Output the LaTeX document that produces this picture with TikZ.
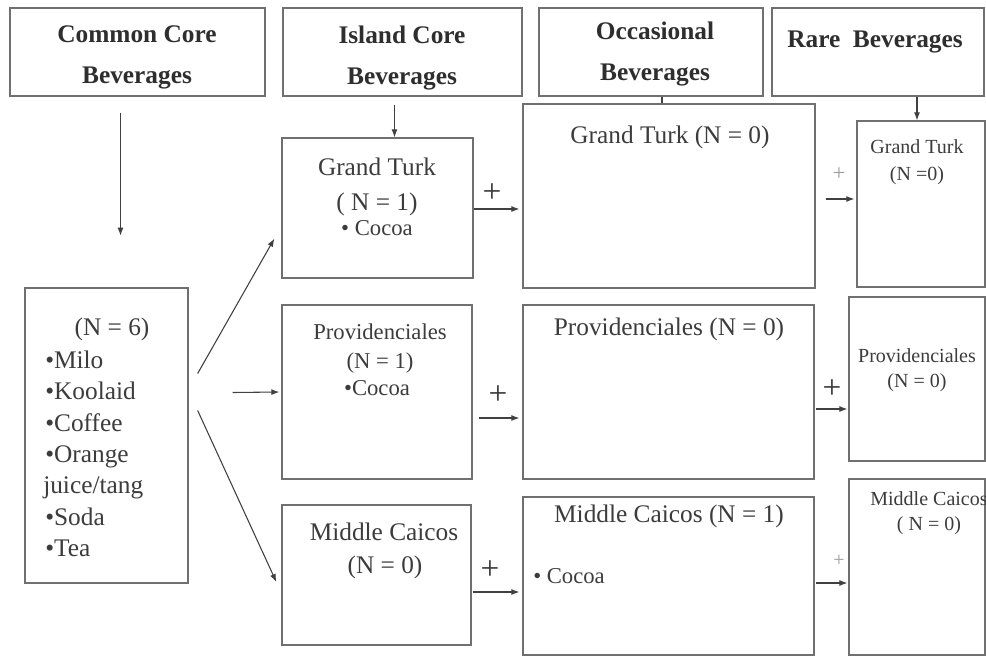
\documentclass[tikz,border=0pt]{standalone}
\usepackage{fontspec}
\setmainfont{Liberation Serif}
\usetikzlibrary{arrows.meta,calc,fit}

\definecolor{ink}{HTML}{2E2E2E}
\definecolor{body}{HTML}{3C3C3C}
\definecolor{frame}{HTML}{707070}
\definecolor{wire}{HTML}{404040}
\definecolor{faint}{HTML}{9C9C9C}

% font sizes
\newcommand\hdrfont{\fontsize{19}{21}\selectfont\bfseries}
\newcommand\bigtxt{\fontsize{19}{21}\selectfont}
\newcommand\midtxt{\fontsize{17}{19}\selectfont}
\newcommand\smtxt{\fontsize{15}{17}\selectfont}
\newcommand\plusbig{\fontsize{25}{27}\selectfont}
\newcommand\plussmall{\fontsize{17}{19}\selectfont}

\tikzset{
  box/.style={draw=frame, line width=1pt, inner sep=0pt},
  hdr/.style={font=\hdrfont, text=ink, anchor=base, inner sep=0pt},
  txt/.style={text=body, anchor=base, inner sep=0pt},
  lefttxt/.style={text=body, anchor=base west, inner sep=0pt, font=\bigtxt},
  arr/.style={draw=wire, line width=0.8pt, -{Latex[length=6pt,width=4.5pt]}},
  link/.style={draw=wire, line width=0.8pt},
  plus/.style={text=body, inner sep=0pt, anchor=center},
}

\begin{document}
\begin{tikzpicture}[x=0.75pt, y=-0.75pt]
\useasboundingbox[fill=white] (0,0) rectangle (986,661);

% ---- column headers
\node[box, fit={(10,8) (265,96)}]  (hcc) {};
\node[box, fit={(283,8) (522,96)}] (hic) {};
\node[box, fit={(539,8) (763,96)}] (hoc) {};
\node[box, fit={(772,8) (984,96)}] (hrb) {};

\node[hdr] (hcc1) at (137,42) {Common Core};
\node[hdr] (hcc2) at (137,83) {Beverages};
\node[hdr] (hic1) at (402,43) {Island Core};
\node[hdr] (hic2) at (402,84) {Beverages};
\node[hdr] (hoc1) at (655,39) {Occasional};
\node[hdr] (hoc2) at (655,80) {Beverages};
\node[hdr] (hrb1) at (875,47) {Rare\ \ Beverages};

% ---- common core list
\node[box, fit={(25,288) (188,583)}] (lb) {};
\node[txt, font=\bigtxt] (lbn) at (112,335) {(N = 6)};
\node[lefttxt] (l1) at (45,368) {•Milo};
\node[lefttxt] (l2) at (45,399) {•Koolaid};
\node[lefttxt] (l3) at (45,431) {•Coffee};
\node[lefttxt] (l4) at (45,462) {•Orange};
\node[lefttxt] (l5) at (43,493) {juice/tang};
\node[lefttxt] (l6) at (45,525) {•Soda};
\node[lefttxt] (l7) at (45,556) {•Tea};

% ---- island core boxes
\node[box, fit={(282,138) (473,278)}] (igt) {};
\node[txt, font=\bigtxt] (igt1) at (377,175) {Grand Turk};
\node[txt, font=\bigtxt] (igt2) at (377,210) {( N = 1)};
\node[txt, font=\midtxt] (igt3) at (377,235) {• Cocoa};

\node[box, fit={(282,305) (472,479)}] (ipr) {};
\node[txt, font=\midtxt] (ipr1) at (380,339) {Providenciales};
\node[txt, font=\midtxt] (ipr2) at (380,368) {(N = 1)};
\node[txt, font=\midtxt] (ipr3) at (377,395) {•Cocoa};

\node[box, fit={(282,505) (471,645)}] (imc) {};
\node[txt, font=\bigtxt] (imc1) at (384,540) {Middle Caicos};
\node[txt, font=\bigtxt] (imc2) at (385,573) {(N = 0)};

% ---- occasional boxes
\node[box, fit={(523,104) (815,288)}] (ogt) {};
\node[txt, font=\bigtxt] (ogt1) at (670,143) {Grand Turk (N = 0)};

\node[box, fit={(523,305) (814,479)}] (opr) {};
\node[txt, font=\bigtxt] (opr1) at (669,335) {Providenciales (N = 0)};

\node[box, fit={(523,497) (814,655)}] (omc) {};
\node[txt, font=\bigtxt] (omc1) at (669,522) {Middle Caicos (N = 1)};
\node[txt, font=\midtxt, anchor=base west] (omc2) at (533,583) {• Cocoa};

% ---- rare boxes
\node[box, fit={(857,121) (985,287)}] (rgt) {};
\node[txt, font=\smtxt] (rgt1) at (917,153) {Grand Turk};
\node[txt, font=\smtxt] (rgt2) at (917,180) {(N =0)};

\node[box, fit={(849,297) (985,461)}] (rpr) {};
\node[txt, font=\smtxt] (rpr1) at (917,362) {Providenciales};
\node[txt, font=\smtxt] (rpr2) at (917,387) {(N = 0)};

\node[box, fit={(849,479) (985,655)}] (rmc) {};
\node[txt, font=\smtxt] (rmc1) at (929,505) {Middle Caicos};
\node[txt, font=\smtxt] (rmc2) at (929,530) {( N = 0)};

% ---- header drops
\draw[arr] ($(hcc.south)+(-17,16)$) -- ($(hcc.south)+(-17,139)$);
\draw[arr] ($(hic.south)+(-8,8)$) -- (igt.north -| {$(hic.south)+(-8,0)$});
\draw[link] ($(hoc.south)+(11,0)$) -- (ogt.north -| {$(hoc.south)+(11,0)$});
\draw[arr] ($(hrb.south)+(39,0)$) -- (rgt.north -| {$(hrb.south)+(39,0)$});

% ---- common core to island boxes
\draw[arr] ($(lb.east)+(9,-62)$) -- ($(igt.south west)+(-7,-40)$);
\draw[arr] ($(lb.east)+(44,-43)$) -- ($(ipr.west)+(-2,0)$);
\draw[arr] ($(lb.east)+(9,-25)$) -- ($(imc.west)+(-5,7)$);

% ---- island core to occasional
\coordinate (a1) at ($(igt.east)+(0,1)$);
\draw[arr] (a1) -- ($(ogt.west |- a1)+(-3,0)$);
\coordinate (a2) at ($(ipr.east)+(6,26)$);
\draw[arr] (a2) -- ($(opr.west |- a2)+(-3,0)$);
\coordinate (a3) at ($(imc.east)+(1,17)$);
\draw[arr] (a3) -- ($(omc.west |- a3)+(-3,0)$);

\node[plus, font=\plusbig] (p1) at (492,193) {+};
\node[plus, font=\plusbig] (p2) at (498,395) {+};
\node[plus, font=\plusbig] (p3) at (490,570) {+};

% ---- occasional to rare
\coordinate (b1) at ($(ogt.east)+(10,3)$);
\draw[arr] (b1) -- ($(rgt.west |- b1)+(-2,0)$);
\coordinate (b2) at ($(opr.east)+(1,17)$);
\draw[arr] (b2) -- ($(rpr.west |- b2)+(-1,0)$);
\coordinate (b3) at ($(omc.east)+(1,7)$);
\draw[arr] (b3) -- ($(rmc.west |- b3)+(-1,0)$);

\node[plus, font=\plussmall, text=faint] (p4) at (839,174) {+};
\node[plus, font=\plusbig] (p5) at (832,389) {+};
\node[plus, font=\smtxt, text=faint] (p6) at (839,561) {+};
\end{tikzpicture}
\end{document}
